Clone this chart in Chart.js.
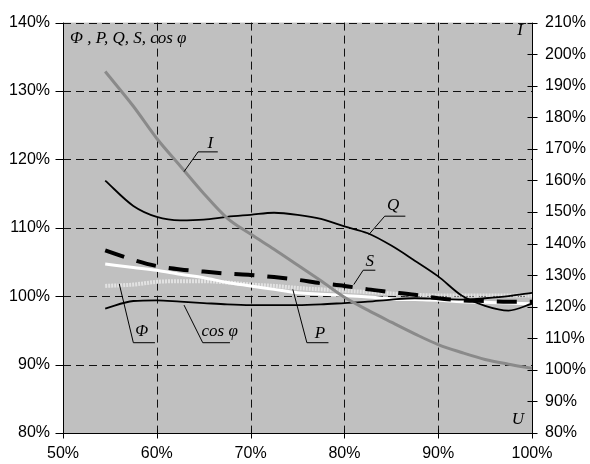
<!DOCTYPE html>
<html>
<head>
<meta charset="utf-8">
<script src="https://cdn.jsdelivr.net/npm/chart.js@4/dist/chart.umd.min.js"></script>
<style>
  html, body { margin: 0; padding: 0; background: #fff; }
  #wrap { width: 590px; height: 464px; }
</style>
</head>
<body>
<div id="wrap"><canvas id="chart"></canvas></div>
<script>
// supply voltage, % of rated
const voltage     = [54.5, 57.5, 60, 62.5, 65, 67.5, 70, 72.5, 75, 77.5, 80, 82.5, 85, 87.5, 90, 92.5, 95, 97.5, 100];
// current I, right axis
const current     = [194.5, 183.5, 173.3, 164.6, 155.9, 148.1, 143.0, 138.2, 133.2, 128.2, 123.0, 118.9, 115.1, 111.4, 108.0, 105.5, 103.3, 101.8, 100.5];
// left axis quantities
const reactive    = [116.9, 113.2, 111.6, 111.1, 111.2, 111.6, 111.9, 112.2, 111.9, 111.3, 110.2, 109.2, 107.4, 105.2, 102.9, 100.1, 98.6, 97.9, 98.9];
const apparent    = [106.7, 105.3, 104.4, 103.9, 103.6, 103.3, 103.1, 102.8, 102.4, 101.9, 101.5, 101.0, 100.6, 100.2, 99.7, 99.4, 99.3, 99.2, 99.2];
const active      = [104.7, 104.2, 103.8, 103.2, 102.7, 102.0, 101.5, 101.0, 100.5, 100.3, 100.1, 99.9, 99.6, 99.5, 99.4, 99.2, 99.1, 99.0, 98.9];
const powerFactor = [101.5, 101.7, 102.1, 102.2, 102.2, 102.0, 101.7, 101.5, 101.2, 101.0, 100.8, 100.6, 100.4, 100.2, 100.1, 100.1, 100.1, 100.1, 100.1];
const flux        = [98.2, 99.3, 99.4, 99.2, 99.0, 98.8, 98.7, 98.7, 98.7, 98.8, 99.0, 99.2, 99.5, 99.7, 99.6, 99.5, 99.7, 100.0, 100.5];

const xTicks     = [50, 60, 70, 80, 90, 100];
const leftTicks  = [80, 90, 100, 110, 120, 130, 140];
const rightTicks = [80, 90, 100, 110, 120, 130, 140, 150, 160, 170, 180, 190, 200, 210];

// curve captions: text position and leader line, in axis units (x, left y)
const captions = [
  { text: 'I',     at: [65.7, 122.3], path: [[62.9, 118.2], [64.4, 121.1], [66.5, 121.1]] },
  { text: 'Q',     at: [85.2, 113.2], path: [[82.6, 109.0], [84.3, 111.7], [86.5, 111.7]] },
  { text: 'S',     at: [82.7, 105.1], path: [[81.0, 101.7], [82.0, 103.8], [83.3, 103.8]] },
  { text: 'P',     at: [77.4, 94.5],  path: [[74.5, 101.0], [76.0, 93.2],  [78.3, 93.2]] },
  { text: 'Φ',     at: [58.4, 94.9],  path: [[56.0, 101.8], [57.5, 93.2],  [59.8, 93.2]] },
  { text: 'cos φ', at: [66.7, 94.9],  path: [[62.9, 98.7],  [64.9, 93.2],  [67.8, 93.2]] }
];

const pts = ys => voltage.map((x, i) => ({ x, y: ys[i] }));
const tickFont = { family: 'Liberation Sans', size: 16 };
const capFont = 'italic 17px "Liberation Serif"';

const frame = {
  id: 'frame',
  beforeDraw(chart) {
    const { ctx, chartArea: a } = chart;
    ctx.save();
    ctx.fillStyle = '#c0c0c0';
    ctx.fillRect(a.left, a.top, a.right - a.left, a.bottom - a.top);
    ctx.restore();
  },
  beforeDatasetsDraw(chart) {
    const { ctx, chartArea: a, scales } = chart;
    ctx.save();
    ctx.strokeStyle = '#111';
    ctx.lineWidth = 1;
    ctx.setLineDash([8, 5]);
    xTicks.slice(1, -1).forEach(v => {
      const x = Math.round(scales.x.getPixelForValue(v)) + 0.5;
      ctx.beginPath(); ctx.moveTo(x, a.top); ctx.lineTo(x, a.bottom); ctx.stroke();
    });
    leftTicks.slice(1).forEach(v => {
      const y = Math.round(scales.y.getPixelForValue(v)) + 0.5;
      ctx.beginPath(); ctx.moveTo(a.left, y); ctx.lineTo(a.right, y); ctx.stroke();
    });
    ctx.restore();
  },
  afterDatasetsDraw(chart) {
    const { ctx, chartArea: a, scales } = chart;
    const L = Math.round(a.left) + 0.5, R = Math.round(a.right) + 0.5, B = Math.round(a.bottom) + 0.5;
    ctx.save();
    ctx.strokeStyle = '#000';
    ctx.lineWidth = 1;
    ctx.beginPath();
    ctx.moveTo(L, a.top); ctx.lineTo(L, B); ctx.lineTo(R, B); ctx.lineTo(R, a.top);
    leftTicks.forEach(v => {
      const y = Math.round(scales.y.getPixelForValue(v)) + 0.5;
      ctx.moveTo(L - 8, y); ctx.lineTo(L, y);
    });
    rightTicks.forEach(v => {
      const y = Math.round(scales.y1.getPixelForValue(v)) + 0.5;
      ctx.moveTo(R - 5, y); ctx.lineTo(R + 5, y);
    });
    xTicks.forEach(v => {
      const x = Math.round(scales.x.getPixelForValue(v)) + 0.5;
      ctx.moveTo(x, B - 4); ctx.lineTo(x, B + 5);
    });
    ctx.stroke();

    // captions with leader lines
    ctx.font = capFont;
    ctx.fillStyle = '#000';
    ctx.textAlign = 'center';
    ctx.textBaseline = 'middle';
    captions.forEach(c => {
      ctx.beginPath();
      c.path.forEach(([vx, vy], i) => {
        const px = scales.x.getPixelForValue(vx), py = scales.y.getPixelForValue(vy);
        i ? ctx.lineTo(px, py) : ctx.moveTo(px, py);
      });
      ctx.stroke();
      ctx.fillText(c.text, scales.x.getPixelForValue(c.at[0]), scales.y.getPixelForValue(c.at[1]));
    });
    ctx.textAlign = 'left';
    ctx.fillText('Φ , P, Q, S, cos φ', a.left + 7, a.top + 16);
    ctx.textAlign = 'center';
    ctx.fillText('I', a.right - 12, a.top + 8);
    ctx.fillText('U', a.right - 14, a.bottom - 13);
    ctx.restore();
  }
};

const line = (data, color, width, dash, axis) => ({
  data: pts(data),
  yAxisID: axis || 'y',
  borderColor: color,
  borderWidth: width,
  borderDash: dash || [],
  pointRadius: 0,
  fill: false,
  cubicInterpolationMode: 'monotone'
});

const axisTicks = padding => ({ callback: v => v + '%', font: tickFont, color: '#000', padding, maxRotation: 0 });
const noGrid = { display: false, drawTicks: false };

new Chart(document.getElementById('chart'), {
  type: 'line',
  data: {
    datasets: [
      line(current, '#8a8a8a', 3, null, 'y1'),
      line(apparent, '#000', 4, [20, 13]),
      line(reactive, '#000', 1.8),
      line(flux, '#000', 1.8),
      line(active, '#fff', 3),
      line(powerFactor, '#e2e2e2', 4, [2, 1])
    ]
  },
  options: {
    responsive: true,
    maintainAspectRatio: false,
    animation: false,
    layout: { padding: { top: 15 } },
    plugins: { legend: { display: false }, tooltip: { enabled: false } },
    scales: {
      x: {
        type: 'linear', min: 50, max: 100,
        afterBuildTicks: s => { s.ticks = xTicks.map(value => ({ value })); },
        afterFit: s => { s.height = 31; },
        grid: noGrid, border: { display: false },
        ticks: axisTicks(11)
      },
      y: {
        position: 'left', min: 80, max: 140,
        afterBuildTicks: s => { s.ticks = leftTicks.map(value => ({ value })); },
        afterFit: s => { s.width = 63; },
        grid: noGrid, border: { display: false },
        ticks: axisTicks(13)
      },
      y1: {
        position: 'right', min: 80, max: 210,
        afterBuildTicks: s => { s.ticks = rightTicks.map(value => ({ value })); },
        afterFit: s => { s.width = 58; },
        grid: noGrid, border: { display: false },
        ticks: axisTicks(13)
      }
    }
  },
  plugins: [frame]
});
</script>
</body>
</html>
